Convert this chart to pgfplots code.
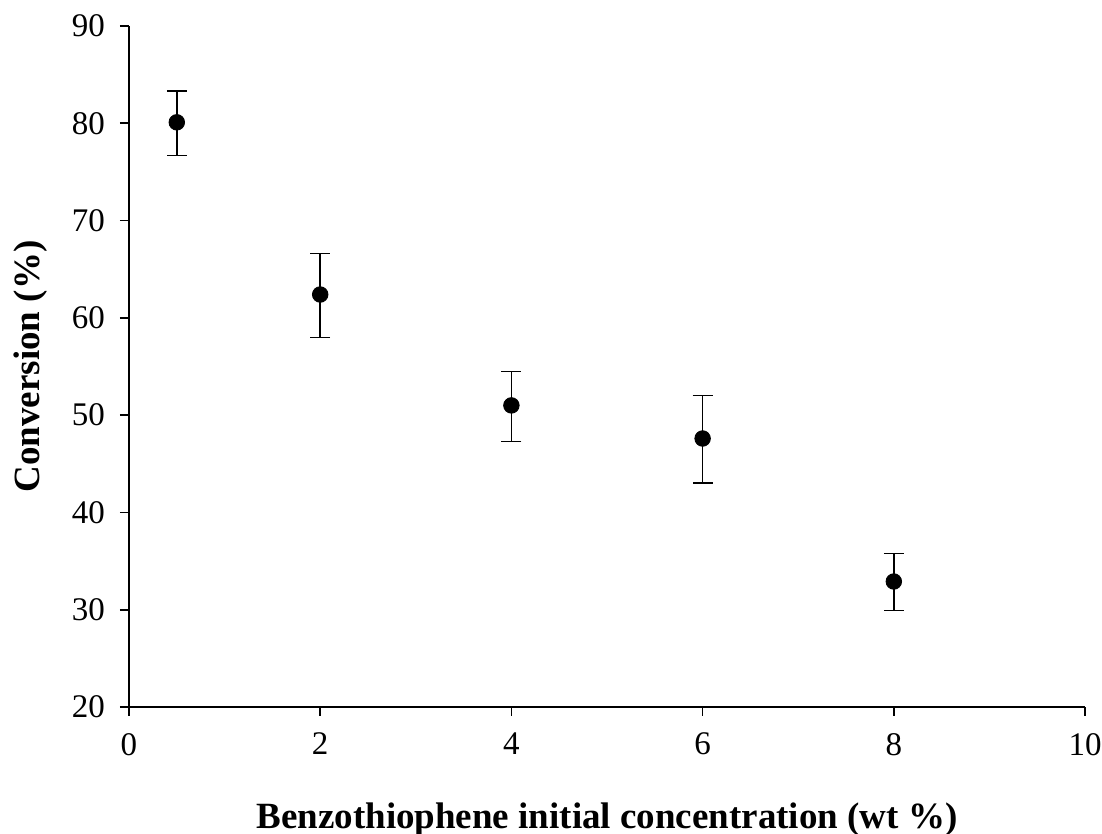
\documentclass[border=0pt]{standalone}
\usepackage{pgfplots}
\pgfplotsset{compat=1.18}
\usepackage{fontspec}
\setmainfont{Liberation Serif}
\begin{document}
\begin{tikzpicture}
\begin{axis}[
  scale only axis,
  width=478pt, height=340.5pt,
  xmin=0, xmax=10, ymin=20, ymax=90,
  xtick={0,2,...,10}, ytick={20,30,...,90},
  axis lines*=left,
  axis line style={line width=1pt},
  tick style={line width=0.8pt, black},
  tick align=outside,
  major tick length=4.5pt,
  /pgf/number format/assume math mode=true,
  ticklabel style={font=\fontsize{16.5pt}{19pt}\selectfont},
  xticklabel style={yshift=-5pt},
  yticklabel style={xshift=-4pt},
  xlabel={\textbf{Benzothiophene initial concentration (wt \%)}},
  ylabel={\textbf{Conversion (\%)}},
  label style={font=\fontsize{18.5pt}{22pt}\selectfont},
  xlabel style={yshift=-17pt},
  ylabel style={yshift=5.5pt},
  clip=false,
]
\addplot[only marks, mark=*, mark size=3.9pt, black,
  error bars/.cd, y dir=both, y explicit,
  error bar style={line width=0.75pt, black},
  error mark options={rotate=90, mark size=5pt, line width=0.75pt, black}]
  table[x=x, y=y, y error plus=ep, y error minus=em] {
x y ep em
0.5 80.1 3.2 3.4
2 62.4 4.2 4.4
4 51.0 3.5 3.7
6 47.6 4.4 4.6
8 32.9 2.9 3.0
};
\end{axis}
\pgfresetboundingbox
\path ([xshift=-64.5pt,yshift=-63.5pt]current axis.south west) rectangle ([xshift=8.5pt,yshift=13pt]current axis.north east);
\end{tikzpicture}
\end{document}
